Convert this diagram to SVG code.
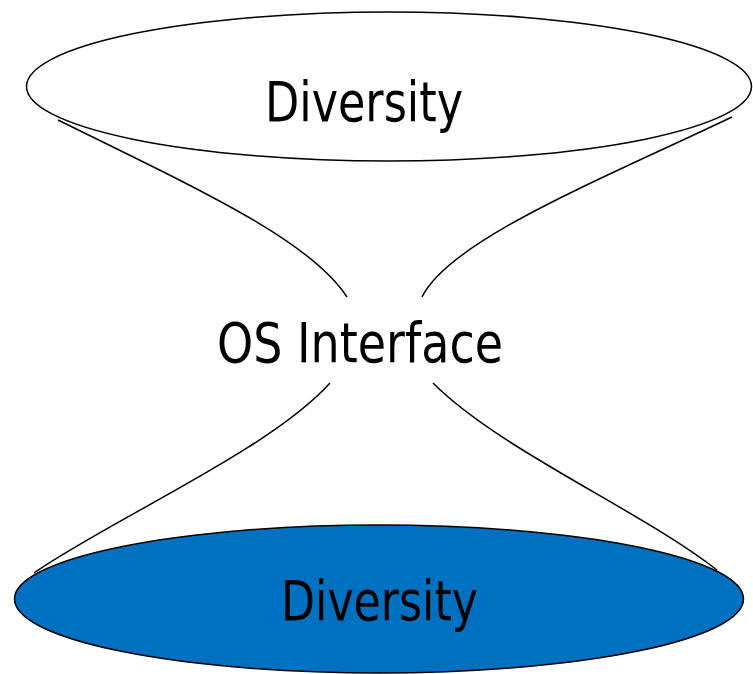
<svg xmlns="http://www.w3.org/2000/svg" width="753" height="674" viewBox="0 0 753 674">
<style>
.shape{stroke:#000;stroke-width:1.5}
.lbl{font-family:"DejaVu Sans","Liberation Sans",sans-serif;font-size:55px;fill:#000}
.conn{fill:none;stroke:#000;stroke-width:1.5}
</style>
<rect width="753" height="674" fill="#fff"/>
<g id="top">
<ellipse class="shape" cx="389" cy="86.5" rx="362.5" ry="74.5" fill="#fff"/>
<text class="lbl" x="265" y="121" textLength="198" lengthAdjust="spacingAndGlyphs">Diversity</text>
</g>
<g id="bottom">
<ellipse class="shape" cx="379" cy="599" rx="364.5" ry="74" fill="#0070C0"/>
<text class="lbl" x="281" y="620" textLength="197" lengthAdjust="spacingAndGlyphs">Diversity</text>
</g>
<g id="middle">
<text class="lbl" x="217" y="362" textLength="286" lengthAdjust="spacingAndGlyphs">OS Interface</text>
</g>
<g id="connectors">
<path class="conn" d="M58,120 C200,190 310,240 347,297"/>
<path class="conn" d="M732,117 C600,180 450,240 422,297"/>
<path class="conn" d="M330,383 C270,450 110,520 34,573"/>
<path class="conn" d="M433,383 C500,450 640,510 717,570"/>
</g>
</svg>
